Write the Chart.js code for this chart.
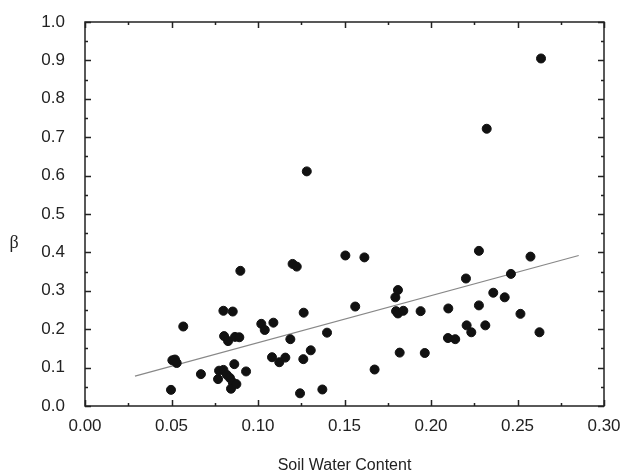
<!DOCTYPE html>
<html>
<head>
<meta charset="utf-8">
<script src="https://cdn.jsdelivr.net/npm/chart.js@4.4.0/dist/chart.umd.min.js"></script>
<style>
  html, body { margin: 0; padding: 0; background: #fff; }
  #wrap { width: 629px; height: 473px; }
</style>
</head>
<body>
<div id="wrap"><canvas id="chart" width="629" height="473"></canvas></div>
<script>
// dữ liệu
const soilWater = [0.0497, 0.0505, 0.052, 0.053, 0.0568, 0.067, 0.0769, 0.0775, 0.080, 0.080,
  0.0804, 0.0827, 0.0854, 0.0867, 0.0892, 0.082, 0.0838, 0.0855, 0.0844, 0.0863,
  0.0875, 0.0898, 0.0931, 0.1019, 0.1039, 0.1089, 0.1081, 0.1123, 0.1158, 0.1187,
  0.120, 0.1224, 0.1243, 0.1264, 0.1262, 0.1305, 0.1372, 0.1399, 0.1505, 0.1282,
  0.1615, 0.1562, 0.1674, 0.1794, 0.1809, 0.1798, 0.1809, 0.184, 0.1819, 0.194,
  0.1964, 0.210, 0.2098, 0.214, 0.2202, 0.2206, 0.2233, 0.2277, 0.2277, 0.2314,
  0.236, 0.2426, 0.2462, 0.2517, 0.2575, 0.2627, 0.2322, 0.2636];
const beta = [0.042, 0.119, 0.121, 0.112, 0.207, 0.083, 0.070, 0.092, 0.094, 0.248,
  0.182, 0.169, 0.246, 0.180, 0.179, 0.081, 0.073, 0.061, 0.045, 0.109,
  0.057, 0.352, 0.090, 0.214, 0.198, 0.217, 0.127, 0.114, 0.126, 0.174,
  0.370, 0.363, 0.033, 0.243, 0.122, 0.145, 0.043, 0.191, 0.392, 0.611,
  0.387, 0.259, 0.095, 0.283, 0.302, 0.247, 0.241, 0.248, 0.139, 0.247,
  0.138, 0.254, 0.177, 0.174, 0.332, 0.210, 0.192, 0.404, 0.262, 0.210,
  0.295, 0.283, 0.344, 0.240, 0.389, 0.192, 0.722, 0.905];

// đường hồi quy
const fitX = [0.0289, 0.2854];
const fitY = [0.078, 0.392];

const xTitle = 'Soil Water Content';
const yTitle = 'β';

const points = soilWater.map((x, i) => ({ x: x, y: beta[i] }));
const fitLine = fitX.map((x, i) => ({ x: x, y: fitY[i] }));

// khung và vạch chia hướng vào trong
const framePlugin = {
  id: 'frame',
  afterDraw(chart) {
    const ctx = chart.ctx;
    const a = chart.chartArea;
    const xs = chart.scales.x, ys = chart.scales.y;
    ctx.save();
    ctx.strokeStyle = '#222';
    ctx.lineWidth = 1.5;
    ctx.strokeRect(a.left, a.top, a.right - a.left, a.bottom - a.top);
    ctx.beginPath();
    for (let i = 0; i <= 12; i++) {
      const px = Math.round(xs.getPixelForValue(i * 0.025)) + 0.5;
      const len = i % 2 === 0 ? 6 : 3;
      ctx.moveTo(px, a.bottom); ctx.lineTo(px, a.bottom - len);
      ctx.moveTo(px, a.top); ctx.lineTo(px, a.top + len);
    }
    for (let i = 0; i <= 20; i++) {
      const py = Math.round(ys.getPixelForValue(i * 0.05)) + 0.5;
      const len = i % 2 === 0 ? 6 : 3;
      ctx.moveTo(a.left, py); ctx.lineTo(a.left + len, py);
      ctx.moveTo(a.right, py); ctx.lineTo(a.right - len, py);
    }
    ctx.stroke();
    ctx.fillStyle = '#222';
    ctx.font = '18px "Liberation Serif"';
    ctx.textAlign = 'center';
    ctx.textBaseline = 'middle';
    ctx.fillText(yTitle, 14, 243);
    ctx.restore();
  }
};

new Chart(document.getElementById('chart'), {
  type: 'scatter',
  data: {
    datasets: [{
      data: points,
      backgroundColor: '#111',
      borderColor: '#111',
      pointRadius: 4.5,
      pointHoverRadius: 4.5
    }, {
      type: 'line',
      data: fitLine,
      borderColor: '#888',
      borderWidth: 1.2,
      pointRadius: 0,
      fill: false
    }]
  },
  options: {
    responsive: false,
    animation: false,
    layout: { padding: { left: 0, right: 25, top: 22, bottom: 0 } },
    plugins: { legend: { display: false }, tooltip: { enabled: false } },
    scales: {
      x: {
        type: 'linear', min: 0, max: 0.3,
        grid: { display: false, drawTicks: false },
        border: { display: false },
        ticks: {
          stepSize: 0.05, padding: 10, color: '#222',
          font: { family: 'Liberation Sans', size: 17 },
          callback: v => v.toFixed(2)
        },
        title: { display: true, text: xTitle, color: '#222',
          font: { family: 'Liberation Sans', size: 16 }, padding: { top: 0, bottom: -2 } },
        afterFit: s => { s.height = 67; s.paddingLeft = 0; s.paddingRight = 0; }
      },
      y: {
        min: 0, max: 1,
        grid: { display: false, drawTicks: false },
        border: { display: false },
        ticks: {
          stepSize: 0.1, padding: 20, color: '#222',
          font: { family: 'Liberation Sans', size: 17 },
          callback: v => v.toFixed(1)
        },
        afterFit: s => { s.width = 85; s.paddingTop = 0; s.paddingBottom = 0; }
      }
    }
  },
  plugins: [framePlugin]
});
</script>
</body>
</html>
